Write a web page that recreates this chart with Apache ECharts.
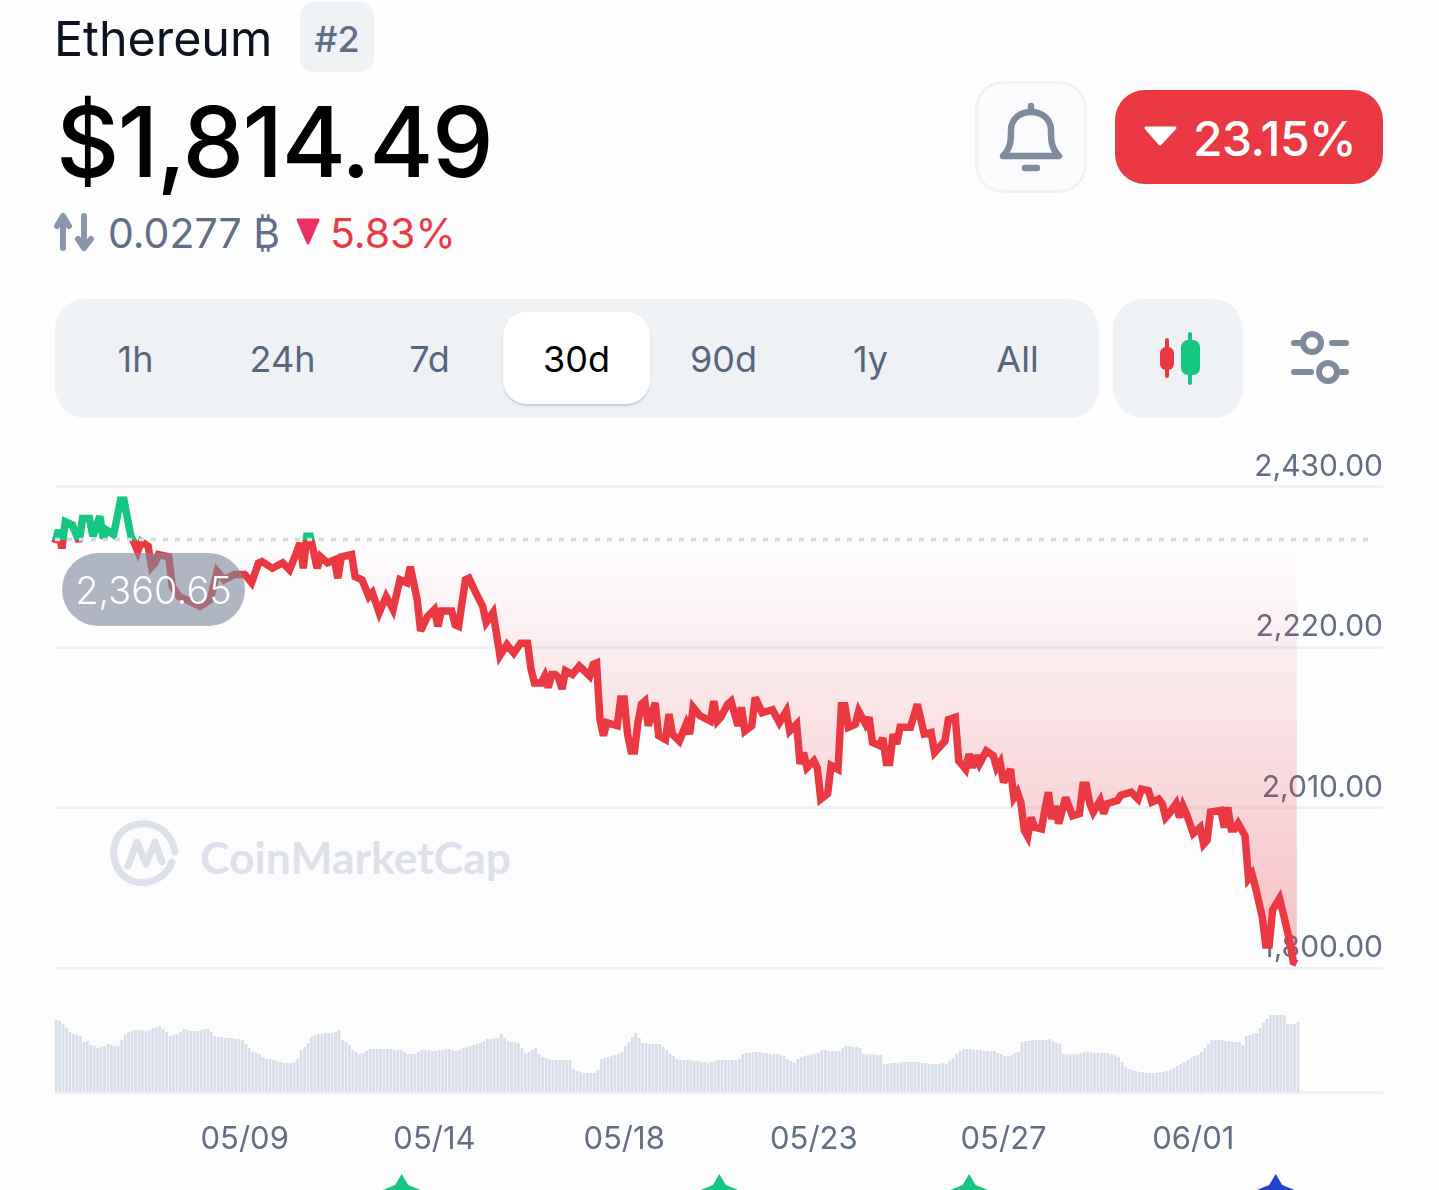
<!DOCTYPE html>
<html><head><meta charset="utf-8">
<style>
html,body{margin:0;padding:0;background:#fdfdfe;}
body{width:1439px;height:1190px;position:relative;overflow:hidden;font-family:Inter,"Noto Sans",sans-serif;}
.a{position:absolute;white-space:nowrap;line-height:1;}
.b{position:absolute;box-sizing:border-box;}
.tab{position:absolute;top:341px;width:147px;text-align:center;font-size:36px;line-height:36px;color:#58667e;font-weight:400;}
#chart{position:absolute;left:0;top:0;width:1439px;height:1190px;}
svg{position:absolute;left:0;top:0;overflow:visible;}
</style>
<script src="https://cdn.jsdelivr.net/npm/echarts@6/dist/echarts.min.js"></script>
</head><body>

<div class="a" style="left:54px;top:15px;font-size:48.4px;color:#0d1421;">Ethereum</div>
<div class="b" style="left:300px;top:2px;width:74px;height:70px;background:#eff2f5;border-radius:14px;"></div>
<div class="a" style="left:300px;width:74px;top:21px;text-align:center;font-size:36px;color:#616e85;font-weight:500;">#2</div>
<div class="a" style="left:56px;top:93px;font-size:98px;color:#000;font-weight:500;letter-spacing:-1.6px;">$1,814.49</div>
<div class="a" style="left:108px;top:213px;font-size:41px;color:#616e85;">0.0277 ₿</div>
<div class="a" style="left:330px;top:213px;font-size:41px;color:#ea3943;">5.83%</div>

<div class="b" style="left:975px;top:81px;width:112px;height:112px;background:#fafbfd;border:3px solid #eff2f5;border-radius:28px;"></div>
<div class="b" style="left:1115px;top:90px;width:268px;height:94px;background:#ea3943;border-radius:30px;"></div>
<div class="a" style="left:1193px;top:115px;font-size:48px;color:#fff;font-weight:500;letter-spacing:-0.5px;">23.15%</div>

<div class="b" style="left:55px;top:299px;width:1044px;height:119px;background:#eff2f5;border-radius:30px;"></div>
<div class="b" style="left:503px;top:312px;width:147px;height:92px;background:#fff;border-radius:24px;box-shadow:0 2px 2px rgba(88,102,126,.25);"></div>
<div class="b" style="left:1113px;top:299px;width:130px;height:119px;background:#eff2f5;border-radius:30px;"></div>
<div class="tab" style="left:62px;">1h</div>
<div class="tab" style="left:209px;">24h</div>
<div class="tab" style="left:356px;">7d</div>
<div class="tab" style="left:503px;color:#000;">30d</div>
<div class="tab" style="left:650px;">90d</div>
<div class="tab" style="left:797px;">1y</div>
<div class="tab" style="left:944px;">All</div>

<svg width="1439" height="1190">
  <path d="M63 248V219M57 226L63 216L69 226" fill="none" stroke="#8a96ab" stroke-width="6" stroke-linecap="round" stroke-linejoin="round"/>
  <path d="M84 216V246M78 239L84 248L91 239" fill="none" stroke="#8a96ab" stroke-width="6" stroke-linecap="round" stroke-linejoin="round"/>
  <path d="M298 220H318L308 243Z" fill="#ea3166" stroke="#ea3166" stroke-width="3" stroke-linejoin="round"/>
  <path d="M1003 156C1011 148 1011 140 1011 130C1011 119 1020 112 1031 112C1042 112 1051 119 1051 130C1051 140 1051 148 1059 156Z" fill="none" stroke="#808a9d" stroke-width="6.5" stroke-linejoin="round"/>
  <path d="M1031 106V111M1025 168H1037" fill="none" stroke="#808a9d" stroke-width="6.5" stroke-linecap="round"/>
  <path d="M1146 128H1175L1160 144Z" fill="#fff" stroke="#fff" stroke-width="3" stroke-linejoin="round"/>
  <path d="M1167 340V376" stroke="#ea3943" stroke-width="4" stroke-linecap="round"/>
  <rect x="1160" y="347" width="14" height="23" rx="6" fill="#ea3943"/>
  <path d="M1190 334V383" stroke="#16c784" stroke-width="4" stroke-linecap="round"/>
  <rect x="1181" y="340" width="19" height="35" rx="7" fill="#16c784"/>
  <g fill="none" stroke="#808a9d" stroke-width="6" stroke-linecap="round">
    <path d="M1294 343H1303M1332 343H1346M1294 372H1311M1340 372H1346"/>
    <circle cx="1312" cy="343" r="9"/><circle cx="1328" cy="372" r="9"/>
  </g>
  <g fill="none" stroke="#dde1ea" stroke-width="7" stroke-linecap="round" stroke-linejoin="round">
    <path d="M172 862C164 884 134 890 120 872C106 852 116 826 140 824C158 822 172 834 175 852"/>
    <path d="M128 866L137 842L146 864L155 842L162 862"/>
  </g>
</svg>
<div class="a" style="left:200px;top:835px;font-size:44.5px;font-weight:700;color:#dde1ea;font-family:Lato,Inter,sans-serif;">CoinMarketCap</div>

<div id="chart"></div>

<div class="b" style="left:62px;top:553px;width:183px;height:73px;border-radius:37px;background:rgba(128,138,157,.62);"></div>
<div class="a" style="left:62px;width:183px;top:571px;text-align:center;font-size:38px;color:#fff;font-weight:300;">2,360.65</div>

<script>
const baseline = 2360.65;
const baselineEnd = 381;
const yTickValues = [1800, 2010, 2220, 2430];
const xTickLabels = ['', '05/09', '05/14', '05/18', '05/23', '05/27', '06/01', ''];
const xTickStep = 55;
const xMax = 385;

// [bar index, price] vertices
const pricePoints = [
[0,2356],[1,2373],[2,2349],[3,2384],[5,2380],[7,2358],[8,2388],[10,2388],[11,2365],[13,2391],[14,2362],[15,2373],[17,2367],[19,2412],[20,2412],[22,2365],[23,2356],[24,2345],[25,2358],[27,2352],[28,2325],[29,2330],[30,2341],[33,2338],[34,2299],[36,2286],[39,2280],[42,2273],[45,2282],[47,2319],[49,2308],[52,2315],[55,2315],[57,2304],[59,2330],[60,2332],[63,2323],[66,2330],[68,2321],[70,2343],[71,2356],[72,2323],[73,2365],[74,2365],[76,2323],[77,2338],[79,2330],[81,2334],[82,2310],[83,2338],[86,2341],[87,2312],[89,2308],[91,2286],[92,2291],[94,2265],[96,2286],[98,2269],[100,2308],[102,2304],[103,2325],[105,2282],[106,2241],[108,2260],[110,2269],[111,2247],[112,2267],[115,2267],[116,2249],[117,2247],[119,2308],[120,2310],[122,2291],[124,2273],[125,2252],[127,2265],
[129,2209],[131,2223],[133,2212],[135,2225],[137,2225],[138,2191],[139,2173],[141,2173],[142,2182],[143,2167],[144,2184],[145,2184],[146,2180],[147,2165],[148,2189],[150,2184],[152,2195],[155,2182],[156,2197],[157,2199],[158,2125],[159,2104],[160,2121],[163,2117],[164,2152],[165,2152],[166,2106],[167,2084],[168,2084],[169,2121],[170,2145],[171,2149],[172,2117],[174,2147],[175,2104],[177,2099],[178,2132],[179,2106],[181,2097],[183,2119],[184,2106],[185,2141],[187,2130],[190,2123],[191,2149],[192,2123],[193,2128],[195,2145],[196,2149],[198,2117],[199,2141],[200,2110],[202,2117],[203,2154],[205,2134],[208,2138],[210,2121],[212,2136],[213,2110],[215,2119],[216,2067],[217,2082],[218,2062],[220,2071],[221,2062],[222,2021],[224,2028],[225,2065],[227,2060],[228,2143],[229,2143],[230,2115],[232,2119],[233,2136],[235,2119],[236,2128],[237,2095],[239,2091],[240,2101],[241,2069],[242,2069],[243,2106],[244,2093],[245,2115],[248,2115],[250,2145],[252,2106],[254,2108],[255,2082],[258,2097],[259,2125],[261,2128],[262,2071],[264,2060],[265,2080],[266,2062],[267,2078],[268,2067],
[270,2084],[272,2078],[273,2062],[274,2069],[275,2043],[277,2060],[278,2023],[279,2030],[280,2017],[281,1980],[282,1972],[283,1997],[284,1984],[286,1982],[287,2008],[288,2030],[289,1995],[290,2012],[291,1989],[293,2023],[295,1999],[297,2002],[298,2039],[299,2039],[300,2015],[301,2004],[303,2019],[304,2002],[305,2015],[308,2019],[309,2026],[312,2030],[314,2021],[315,2034],[317,2032],[318,2017],[320,2021],[321,2015],[322,1997],[323,2002],[325,2015],[326,1997],[327,2012],[328,2002],[330,1976],[332,1984],[333,1962],[334,1967],[335,2004],[338,2006],[339,1984],[340,2010],[341,1982],[342,1982],[343,1989],[345,1973],[346,1917],[347,1923],[348,1906],[350,1867],[351,1830],[352,1830],[353,1876],[355,1891],[356,1873],[358,1834],[359,1808],[360,1806]
];

// relative volume, one value per bar
const volumeValues = [
72,71,68,64,60,58,57,56,50,51,47,46,44,45,46,48,47,46,46,52,
57,60,61,62,62,62,61,62,64,65,66,63,60,56,57,58,60,63,62,61,
61,61,62,63,63,60,56,55,55,54,54,54,53,53,52,48,44,40,39,38,
35,33,33,32,31,30,29,29,29,30,33,42,45,49,55,57,58,58,59,59,
59,60,62,52,50,47,42,40,38,39,41,43,43,43,43,43,43,43,42,42,
42,40,38,38,38,40,42,42,42,41,41,42,42,43,43,42,41,42,44,45,
46,47,48,49,51,53,53,54,54,58,54,51,50,50,49,44,39,40,42,44,
38,35,34,33,32,32,32,32,32,32,23,21,20,19,19,19,19,22,33,34,
35,36,37,38,40,46,50,55,59,54,49,49,48,48,48,48,45,42,38,36,
33,32,32,32,32,31,31,30,30,29,30,31,32,32,32,32,32,32,33,38,
39,39,40,40,40,39,39,38,38,38,37,36,33,31,29,33,35,36,37,38,
38,39,42,42,41,41,41,41,44,46,46,45,45,44,38,38,38,38,37,37,
28,28,29,29,29,30,30,30,30,30,30,29,29,28,28,28,28,29,28,31,
34,38,41,43,43,43,42,42,42,41,41,41,41,39,38,36,36,37,39,40,
50,51,51,52,52,52,52,52,53,51,49,48,38,38,38,38,38,39,40,40,
40,39,39,39,39,39,38,37,35,30,25,23,22,21,20,20,19,19,19,19,
20,20,21,22,24,26,28,30,32,34,36,37,40,44,48,52,52,52,52,51,
51,50,50,50,47,56,57,58,59,64,69,73,77,77,77,77,77,68,68,68,70
];

// event markers below the axis: bar index
const greenEvents = [100.5, 192.6, 265];
const blueEvents = [353.9];

const chart = echarts.init(document.getElementById('chart'), null, {renderer:'canvas', width:1439, height:1190});
const markerPath = 'path://M20 0L26.5 11L39 16L1 16L13.5 11Z';
const GREY = '#616e85';
const labelFont = {fontFamily:'Inter', fontSize:31, color:GREY, fontWeight:400};
const gridTop = 486.5, gridHeight = 481.5, yMin = 1800, yMax = 2430;
const baseFrac = (yMax - baseline) / (yMax - yMin);
const baseY = gridTop + baseFrac * gridHeight;

chart.setOption({
  animation:false,
  backgroundColor:'transparent',
  grid:[
    {left:55, width:1328, top:gridTop, height:gridHeight},
    {left:55, width:1328, top:1012, height:80}
  ],
  xAxis:[
    {gridIndex:0, type:'value', min:0, max:xMax, interval:xTickStep, show:false},
    {gridIndex:1, type:'value', min:0, max:xMax, interval:xTickStep,
     axisLine:{show:true, onZero:false, lineStyle:{color:'#eff2f5', width:3, cap:'butt'}},
     axisTick:{show:false}, splitLine:{show:false},
     axisLabel:Object.assign({margin:32, formatter:v=>xTickLabels[Math.round(v/xTickStep)]||''}, labelFont)}
  ],
  yAxis:[
    {gridIndex:0, type:'value', position:'right', min:yMin, max:yMax,
     axisLine:{show:false},
     axisTick:{show:false, customValues:yTickValues},
     splitLine:{show:true, lineStyle:{color:'#eff2f5', width:3}},
     axisLabel:Object.assign({}, labelFont, {fontSize:30, inside:true, margin:0, verticalAlign:'bottom', padding:[0,0,5,0],
        customValues:yTickValues,
        formatter:v=>v.toLocaleString('en-US',{minimumFractionDigits:2,maximumFractionDigits:2})})},
    {gridIndex:1, type:'value', min:0, max:80, show:false}
  ],
  series:[
    {type:'line', xAxisIndex:0, yAxisIndex:0, data:pricePoints, symbol:'none', smooth:false, z:3,
     lineStyle:{width:7.5, join:'miter', miterLimit:3, cap:'butt',
       color:{type:'linear', global:true, x:0, y:gridTop, x2:0, y2:gridTop+gridHeight,
         colorStops:[{offset:0,color:'#16c784'},{offset:baseFrac,color:'#16c784'},{offset:baseFrac,color:'#ea3943'},{offset:1,color:'#ea3943'}]}},
     areaStyle:{origin:baseline, opacity:1,
       color:{type:'linear', global:true, x:0, y:baseY, x2:0, y2:gridTop+gridHeight,
         colorStops:[{offset:0,color:'rgba(234,57,67,0)'},{offset:1,color:'rgba(234,57,67,0.32)'}]}}
    },
    {type:'line', xAxisIndex:0, yAxisIndex:0, silent:true, symbol:'none', z:4,
     data:[[0,baseline],[baselineEnd,baseline]],
     lineStyle:{color:'#d3d9e5', width:3.5, type:[5,7], cap:'butt'}},
    {type:'bar', xAxisIndex:1, yAxisIndex:1, silent:true, barWidth:2.8,
     data:volumeValues.map((h,i)=>[i+0.35,h]), itemStyle:{color:'#d9dfea'}, z:2},
    {type:'scatter', xAxisIndex:1, yAxisIndex:1, clip:false, silent:true, symbol:markerPath, symbolSize:[38,16], symbolKeepAspect:false,
     data:greenEvents.map(i=>[i,-90]), itemStyle:{color:'#16c784', opacity:1}},
    {type:'scatter', xAxisIndex:1, yAxisIndex:1, clip:false, silent:true, symbol:markerPath, symbolSize:[38,16], symbolKeepAspect:false,
     data:blueEvents.map(i=>[i,-90]), itemStyle:{color:'#2244cc', opacity:1}}
  ]
});
</script>
</body></html>
